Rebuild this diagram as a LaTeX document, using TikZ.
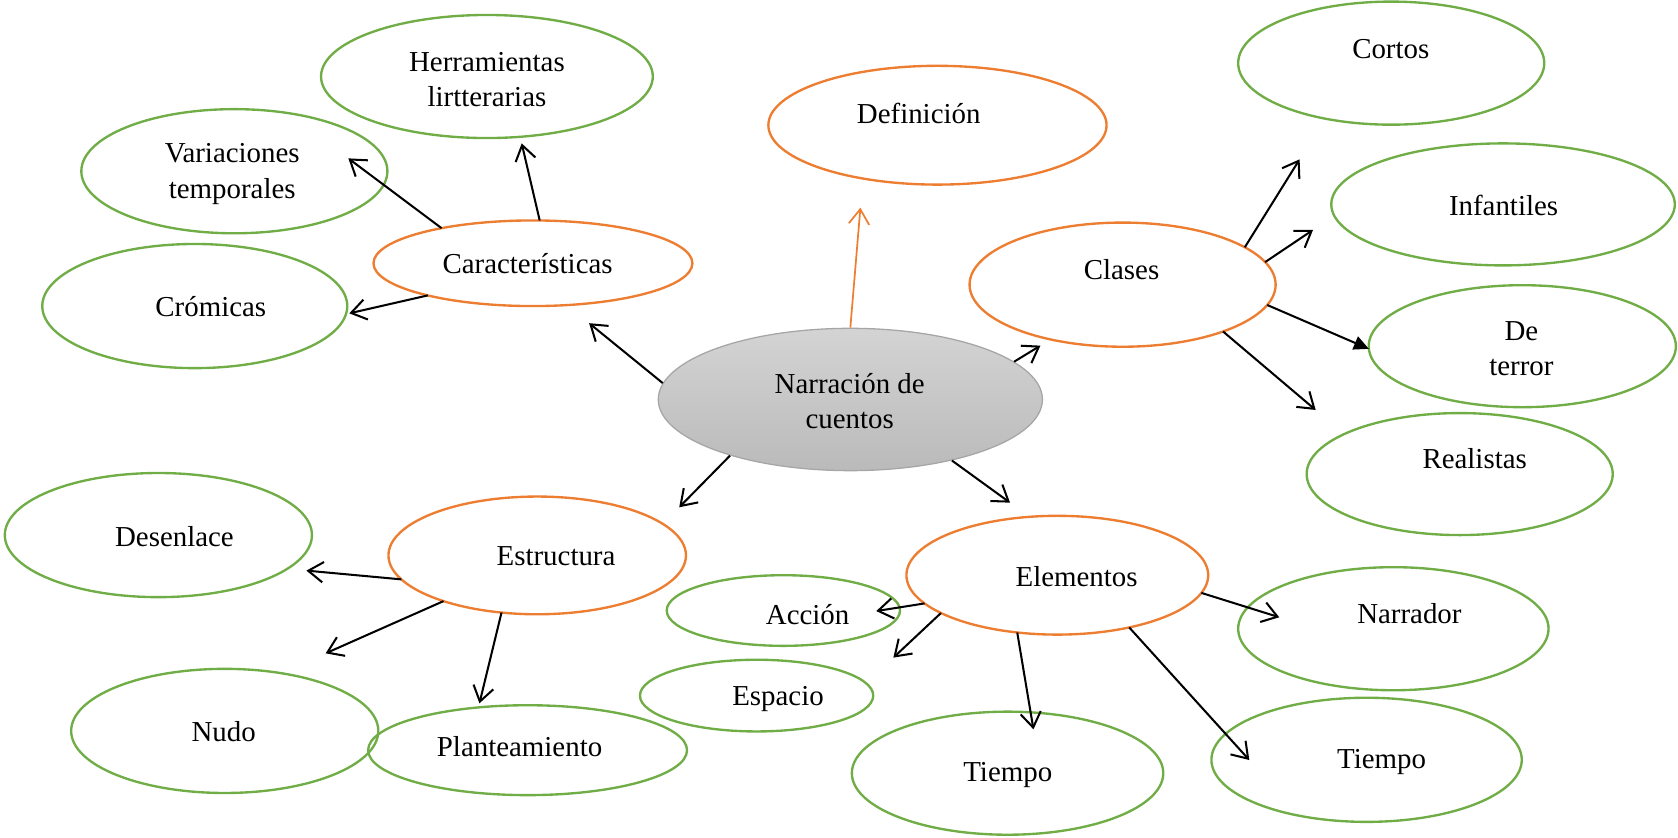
\documentclass[tikz,border=0pt]{standalone}
\usepackage{fontspec}
\setmainfont{Liberation Serif}
\usetikzlibrary{shapes.geometric,arrows.meta}
\definecolor{ora}{HTML}{ED7D31}
\definecolor{grn}{HTML}{70AD47}
\definecolor{gedge}{HTML}{A6A6A6}
\begin{document}
\begin{tikzpicture}[x=1pt,y=-1pt,
  ell/.style={ellipse,draw,line width=2.2pt,inner sep=0pt,outer sep=0pt},
  gr/.style={ell,draw=grn},
  orn/.style={ell,draw=ora},
  sz/.style 2 args={minimum width=#1pt,minimum height=#2pt},
  lbl/.style={font=\fontsize{27}{33}\selectfont,align=center,inner sep=0pt},
  arr/.style={line width=1.9pt,-{Straight Barb[length=14pt,width=19pt,line width=1.9pt]}},
  arrf/.style={line width=1.9pt,-{Triangle[length=14pt,width=13pt]}},
  arro/.style={draw=ora,line width=1.6pt,-{Straight Barb[length=14pt,width=19pt,line width=1.6pt]}},
]
\useasboundingbox (0,0) rectangle (1568,783);

% ellipses
\node[gr,sz={310}{115}] (her) at (455,71.5) {};
\node[gr,sz={286}{116}] (var) at (219,160) {};
\node[gr,sz={285}{116}] (cro) at (182,286) {};
\node[orn,sz={298}{80}] (car) at (498,246) {};
\node[orn,sz={316}{111}] (def) at (876,117) {};
\node[gr,sz={286}{115}] (cor) at (1300,59) {};
\node[gr,sz={321}{114}] (inf) at (1404.5,191) {};
\node[orn,sz={286}{116}] (cla) at (1049,266) {};
\node[gr,sz={287}{114}] (ter) at (1422.5,323.5) {};
\node[gr,sz={286}{114}] (rea) at (1364,443) {};
\node[ellipse,draw=gedge,line width=1.2pt,top color=black!17,bottom color=black!27,inner sep=0pt,sz={359}{133}] (nar) at (794.6,373.3) {};
\node[orn,sz={278}{110}] (est) at (502,519) {};
\node[gr,sz={287}{116}] (des) at (148,500) {};
\node[orn,sz={282}{111}] (ele) at (988,537.5) {};
\node[gr,sz={218}{66}] (acc) at (732,570.5) {};
\node[gr,sz={218}{67}] (esp) at (707,650) {};
\node[gr,sz={287}{116}] (nud) at (210,683) {};
\node[gr,sz={298}{84}] (pla) at (493,701) {};
\node[gr,sz={290}{115}] (nrr) at (1302,587.5) {};
\node[gr,sz={291}{115}] (ti1) at (941.5,722.5) {};
\node[gr,sz={290}{116}] (ti2) at (1277,710) {};

% texts
\node[lbl] (t-her) at (455,74.5) {Herramientas\\lirtterarias};
\node[lbl] (t-var) at (217,162.5) {Variaciones\\temporales};
\node[lbl] (t-cro) at (197,286.6) {Crómicas};
\node[lbl] (t-car) at (493,246) {Características};
\node[lbl] (t-def) at (858.5,106) {Definición};
\node[lbl] (t-cor) at (1299.6,46) {Cortos};
\node[lbl] (t-inf) at (1405,191.6) {Infantiles};
\node[lbl] (t-cla) at (1048,252.3) {Clases};
\node[lbl] (t-ter) at (1421.6,326) {De\\terror};
\node[lbl] (t-rea) at (1378,428.3) {Realistas};
\node[lbl] (t-nar) at (794,375) {Narración de\\cuentos};
\node[lbl] (t-est) at (519.6,520) {Estructura};
\node[lbl] (t-des) at (163,501.5) {Desenlace};
\node[lbl] (t-ele) at (1006,538.8) {Elementos};
\node[lbl] (t-acc) at (754.7,574.7) {Acción};
\node[lbl] (t-esp) at (727,653.5) {Espacio};
\node[lbl] (t-nud) at (209,683.7) {Nudo};
\node[lbl] (t-pla) at (485.5,697.7) {Planteamiento};
\node[lbl] (t-nrr) at (1317,573) {Narrador};
\node[lbl] (t-ti1) at (941.7,724) {Tiempo};
\node[lbl] (t-ti2) at (1291,711.7) {Tiempo};

% free arrow ends
\coordinate (e1) at (550.5,302);
\coordinate (e2) at (804,194);
\coordinate (e3) at (972.2,323);
\coordinate (e4) at (634.7,474);
\coordinate (e5) at (943.8,469.7);
\coordinate (e6) at (487.5,134);
\coordinate (e7) at (325.5,148);
\coordinate (e8) at (326.4,292.8);
\coordinate (e9) at (1214.4,148.9);
\coordinate (e10) at (1226.9,214.9);
\coordinate (e12) at (1229.4,383.1);
\coordinate (e13) at (286.3,533.2);
\coordinate (e14) at (304.3,610.5);
\coordinate (e15) at (448,657.2);
\coordinate (e16) at (818.8,571);
\coordinate (e17) at (834.8,614.5);
\coordinate (e18) at (965.7,681.5);
\coordinate (e19) at (1167.4,710.2);
\coordinate (e20) at (1195.4,576.8);

% connectors
\draw[arr] (nar.175.1) -- (e1);
\draw[arro] (nar.90.9) -- (e2);
\draw[arr] (nar.13.07) -- (e3);
\draw[arr] (nar.205.6) -- (e4);
\draw[arr] (nar.329) -- (e5);
\draw[arr] (car.81.6) -- (e6);
\draw[arr] (car.159.1) -- (e7);
\draw[arr] (car.197.4) -- (e8);
\draw[arr] (cla.17.7) -- (e9);
\draw[arr] (cla.9.26) -- (e10);
\draw[arrf] (cla.352) -- (ter.181);
\draw[arr] (cla.335.5) -- (e12);
\draw[arr] (est.190.1) -- (e13);
\draw[arr] (est.206.8) -- (e14);
\draw[arr] (est.238.6) -- (e15);
\draw[arr] (ele.192.5) -- (e16);
\draw[arr] (ele.198.6) -- (e17);
\draw[arr] (ele.235.1) -- (e18);
\draw[arr] (ele.324.9) -- (e19);
\draw[arr] (ele.353.6) -- (e20);
\end{tikzpicture}
\end{document}
